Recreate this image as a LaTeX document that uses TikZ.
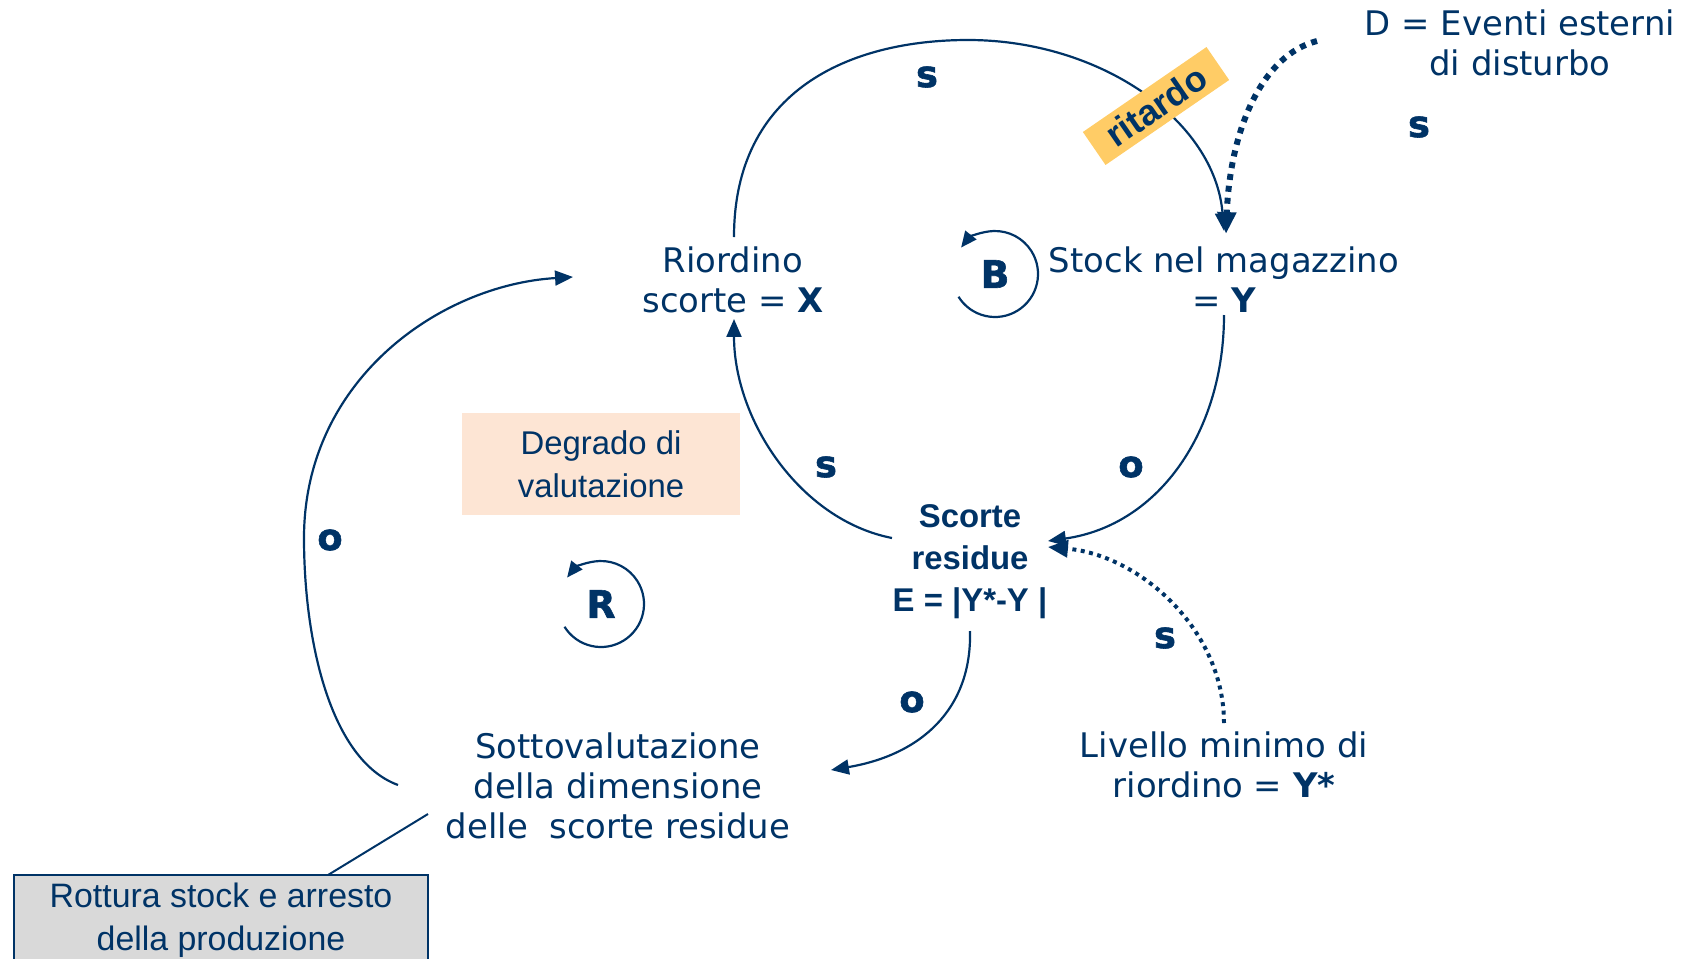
\documentclass[tikz,border=0pt]{standalone}
\usepackage{fontspec}
\setmainfont{DejaVu Sans}
\newfontfamily\arialfont{Liberation Sans}
\newfontfamily\heavyfont{DejaVu Sans Bold}[FakeBold=1.5]
\usetikzlibrary{arrows.meta}
\definecolor{navy}{RGB}{0,51,102}
\definecolor{delaybox}{RGB}{255,204,102}
\definecolor{peach}{RGB}{253,229,212}
\definecolor{panelgray}{RGB}{217,217,217}

\begin{document}
\begin{tikzpicture}[x=1bp,y=-1bp,
  every node/.style={text=navy, inner sep=0pt, align=center},
  vtext/.style={font=\fontsize{34}{40}\selectfont},
  atext/.style={font=\arialfont\fontsize{33}{43}\selectfont},
  sign/.style={font=\heavyfont\fontsize{37}{37}\selectfont},
  looplabel/.style={font=\heavyfont\fontsize{38}{38}\selectfont},
  link/.style={draw=navy, line width=2.2pt, -{Triangle[length=18pt,width=15pt]}},
  plainlink/.style={draw=navy, line width=2pt},
  thickdots/.style={draw=navy, line width=6pt, dash pattern=on 6pt off 6pt, -{Triangle[length=22pt,width=18pt]}},
  thindots/.style={draw=navy, line width=4pt, dash pattern=on 4pt off 4.5pt, -{Triangle[length=20pt,width=17pt]}},
  cycarrow/.style={draw=navy, line width=2.2pt, -{Triangle[length=16pt,width=14pt]}},
]
\useasboundingbox (0,0) rectangle (1686,958);
\clip (0,0) rectangle (1686,958);

% variables of the system
\node[vtext] (riord) at (733,280) {Riordino\\scorte = \textbf{X}};
\node[vtext] (stock) at (1224,280) {Stock nel magazzino\\= \textbf{Y}};
\node[vtext] (dist) at (1520,43) {D = Eventi esterni\\di disturbo};
\node[font=\arialfont\bfseries\fontsize{33}{42}\selectfont] (scorte) at (970,562) {Scorte\\residue\\E = |Y*-Y |};
\node[vtext] (sotto) at (618,786) {Sottovalutazione\\della dimensione\\delle~ scorte residue};
\node[vtext] (livello) at (1224,765) {Livello minimo di\\riordino = \textbf{Y*}};

% boxes
\node[atext, fill=peach, minimum width=278bp, minimum height=102bp] (degr) at (601,464) {Degrado di\\valutazione};
\node[atext, font=\arialfont\fontsize{34}{43}\selectfont, fill=panelgray, draw=navy, line width=2pt,
      minimum width=414bp, minimum height=90bp] (rott) at (221,920) {Rottura stock e arresto\\della produzione};

% causal links
\draw[link] ([shift={(1,-43)}]riord.center) .. controls (734,90) and (850,40) .. (968,40)
  .. controls (1100,40) and (1215,120) .. ([shift={(0,-49)}]stock.center);
\draw[thickdots] ([shift={(-203,-2)}]dist.center) .. controls (1262,55) and (1230,130) .. ([shift={(2,-46)}]stock.center);
\draw[link] ([shift={(0,35)}]stock.center) .. controls (1224,430) and (1160,525) .. ([shift={(78,-21)}]scorte.center);
\draw[link] ([shift={(-78,-24)}]scorte.center) .. controls (800,520) and (734,420) .. ([shift={(1,39)}]riord.center);
\draw[link] ([shift={(0,69)}]scorte.center) .. controls (972,710) and (920,755) .. ([shift={(213,-16)}]sotto.center);
\draw[thindots] ([shift={(0,-42)}]livello.center) .. controls (1224,630) and (1140,555) .. ([shift={(78,-15)}]scorte.center);
\draw[link] ([shift={(-220,-1)}]sotto.center) .. controls (330,760) and (304,640) .. (304,538)
  .. controls (304,380) and (440,285) .. ([shift={(-160,-3)}]riord.center);
\draw[plainlink] ([shift={(-190,28)}]sotto.center) -- ([shift={(107,-45)}]rott.center);

% delay marker on the ordering link
\node[fill=delaybox, rotate=34.5, minimum width=150bp, minimum height=40bp,
      font=\arialfont\bfseries\fontsize{36}{36}\selectfont] (delay) at (1156,106) {ritardo};

% link polarities
\node[sign] (s1) at (927,77) {s};
\node[sign] (s2) at (1419,127) {s};
\node[sign] (o1) at (1131,467) {o};
\node[sign] (s3) at (826,467) {s};
\node[sign] (o2) at (330,540) {o};
\node[sign] (o3) at (912,702) {o};
\node[sign] (s4) at (1165,638) {s};

% loop markers
\node[looplabel] (B) at (995,274) {B};
\draw[cycarrow] ([shift={(148:43)}]B.center) arc[start angle=148, end angle=-142, radius=43];
\node[looplabel] (R) at (601,604) {R};
\draw[cycarrow] ([shift={(148:43)}]R.center) arc[start angle=148, end angle=-142, radius=43];
\end{tikzpicture}
\end{document}
